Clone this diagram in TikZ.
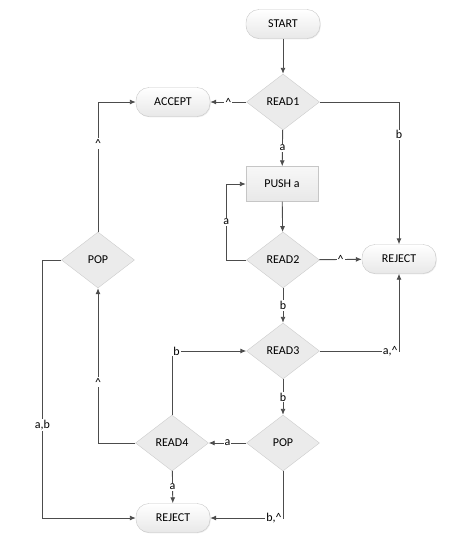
\documentclass[tikz,border=0pt]{standalone}
\usepackage{fontspec}
\setmainfont{Carlito}
\usetikzlibrary{positioning,shapes.geometric,arrows.meta,shadows}

\begin{document}
\begin{tikzpicture}[x=1pt,y=1pt,font=\fontsize{12}{14}\selectfont]
		\tikzstyle{terminal}=[rectangle, rounded corners=13pt, minimum width=74pt, minimum height=29pt, draw=gray!45, top color=white, bottom color=gray!18, drop shadow={opacity=0.15, shadow xshift=0.8pt, shadow yshift=-0.8pt}]
		\tikzstyle{decision}=[diamond, minimum width=73pt, minimum height=56pt, inner sep=0pt, draw=gray!40, fill=gray!16]
		\tikzstyle{process}=[rectangle, minimum width=72pt, minimum height=35pt, draw=gray!45, top color=gray!6, bottom color=gray!18, drop shadow={opacity=0.15, shadow xshift=0.8pt, shadow yshift=-0.8pt}]
		\tikzstyle{connect}=[-{Latex[length=6pt,width=5pt]}, draw=black!70, line width=0.9pt]
		\tikzstyle{lbl}=[fill=white, inner sep=1pt]
		\useasboundingbox (0,0) rectangle (454,-544);
		\node[terminal] (start) at (283,-24) {START};
		\node[decision] (read1) at (283,-102) {READ1};
		\node[terminal] (accept) at (173,-102) {ACCEPT};
		
		\node[process] (push) at (282,-184) {PUSH a};
		\node[decision] (read2) at (283,-260) {READ2};
		\node[terminal] (reject1) at (399,-259) {REJECT};
		
		\node[decision] (pop1) at (98,-260) {POP};
		
		\node[decision] (read3) at (283,-351) {READ3};
		\node[decision] (pop2) at (283,-443) {POP};
		\node[decision] (read4) at (172,-443) {READ4};
		\node[terminal] (reject2) at (173,-518) {REJECT};
		
		\path (start) edge [connect] (read1);
		\path (read1) edge [connect] node[lbl] {\textasciicircum} (accept);
		\draw[connect] (read1.east) -| node[lbl, pos=0.615] {b} (reject1.north);
		\path (read1) edge [connect] node[lbl] {a} (push);
		
		\path (push) edge [connect] (read2);
		\draw[connect] (read2.west) -- ++(-20,0) |- node[lbl, pos=0.25] {a} (push.west);
		\path (read2) edge [connect] node[lbl] {\textasciicircum} (reject1);
		\path (read2) edge [connect] node[lbl] {b} (read3);
		
		\draw[connect] (read3.east) -| node[lbl, pos=0.5, anchor=east] {a,\textasciicircum} (reject1.south);
		\draw[connect] (read4.north) |- node[lbl, pos=0.5, anchor=west] {b} (read3.west);
		\path (read3) edge [connect] node[lbl] {b} (pop2);
		
		\path (pop2) edge [connect] node[lbl] {a} (read4);
		\draw[connect] (pop2.south) |- node[lbl, pos=0.5, anchor=east] {b,\textasciicircum} (reject2.east);
		\path (read4) edge [connect] node[lbl] {a} (reject2);
		
		\draw[connect] (read4.west) -| node[lbl, pos=0.696] {\textasciicircum} (pop1.south);
		\draw[connect] (pop1.west) -- ++(-19,0) |- node[lbl, pos=0.32] {a,b} (reject2.west);
		\draw[connect] (pop1.north) |- node[lbl, pos=0.34] {\textasciicircum} (accept.west);

	\end{tikzpicture}
\end{document}
